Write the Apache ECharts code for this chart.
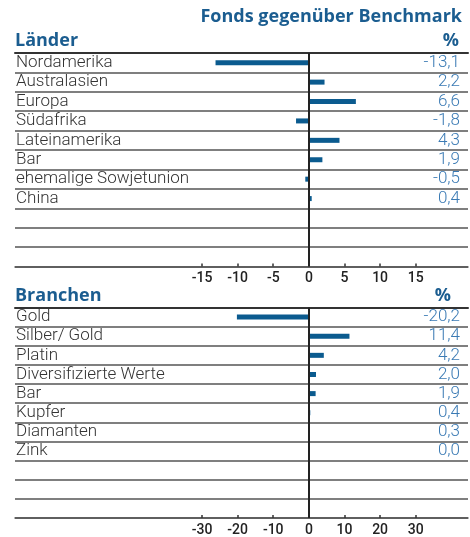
<!DOCTYPE html>
<html>
<head>
<meta charset="utf-8">
<script src="https://cdn.jsdelivr.net/npm/echarts@6/dist/echarts.min.js"></script>
<style>
  html, body { margin: 0; padding: 0; background: #fff; }
  #chart { width: 470px; height: 537px; }
</style>
</head>
<body>
<div id="chart"></div>
<script>
// Länder
const laenderCats = ['Nordamerika', 'Australasien', 'Europa', 'Südafrika', 'Lateinamerika', 'Bar', 'ehemalige Sowjetunion', 'China']
const laenderValues = [-13.1, 2.2, 6.6, -1.8, 4.3, 1.9, -0.5, 0.4]
const laenderTicks = [-15, -10, -5, 0, 5, 10, 15]

// Branchen
const branchenCats = ['Gold', 'Silber/ Gold', 'Platin', 'Diversifizierte Werte', 'Bar', 'Kupfer', 'Diamanten', 'Zink']
const branchenValues = [-20.2, 11.4, 4.2, 2.0, 1.9, 0.4, 0.3, 0.0]
const branchenTicks = [-30, -20, -10, 0, 10, 20, 30]

const emptyRows = 3

const FONT = 'Roboto, "Open Sans", sans-serif'
const HEAD_FONT = '"Open Sans", Roboto, sans-serif'
const BLUE_HEAD = '#1b5d90'
const BLUE_VAL = '#3a7ab4'
const BAR = '#0b5b8f'
const LINE = '#555'

const fmt = v => v.toFixed(1).replace('.', ',')
const pad = cats => cats.concat(Array(emptyRows).fill(''))

function panel(idx, cats, values, ticks, min, max) {
  const g = idx
  const yAxes = [
    {
      type: 'category', gridIndex: g, inverse: true, data: pad(cats),
      axisLine: { show: false }, axisTick: { show: false, interval: 0 },
      splitLine: { show: true, interval: 0, lineStyle: { color: LINE, width: 1.5 } },
      axisLabel: {
        inside: true, interval: 0, margin: 1, color: '#333', fontSize: 17,
        fontFamily: FONT, fontWeight: 300, padding: [4, 0, 0, 0]
      }
    },
    {
      type: 'category', gridIndex: g, inverse: true, position: 'right', data: pad(cats),
      axisLine: { show: false }, axisTick: { show: false }, splitLine: { show: false },
      axisLabel: {
        inside: true, interval: 0, margin: 8, color: BLUE_VAL, fontSize: 17,
        fontFamily: FONT, fontWeight: 300, padding: [4, 0, 0, 0],
        formatter: (v, i) => i < values.length ? fmt(values[i]) : ''
      }
    }
  ]
  const xAxes = [
    {
      type: 'value', gridIndex: g, min, max, position: 'bottom',
      splitLine: { show: false },
      axisLine: { show: true, onZero: false, lineStyle: { color: LINE, width: 1.5 } },
      axisTick: { show: true, inside: true, length: 3, customValues: ticks, lineStyle: { color: '#333', width: 1.5 } },
      axisLabel: {
        show: true, customValues: ticks, margin: 5, color: '#222',
        fontSize: 14, fontFamily: FONT, fontWeight: 500
      }
    },
    {
      type: 'value', gridIndex: g, min, max, position: 'top',
      splitLine: { show: false }, axisTick: { show: false }, axisLabel: { show: false },
      axisLine: { show: true, onZero: false, lineStyle: { color: '#333', width: 2 } }
    }
  ]
  const series = {
    type: 'bar', xAxisIndex: idx * 2, yAxisIndex: idx * 2,
    data: values, barWidth: 5,
    itemStyle: { color: BAR },
    silent: true,
    markLine: {
      silent: true, symbol: 'none', label: { show: false },
      lineStyle: { color: '#222', width: 2, type: 'solid' },
      data: [{ xAxis: 0 }]
    }
  }
  return { xAxes, yAxes, series }
}

const p1 = panel(0, laenderCats, laenderValues, laenderTicks, -41.25, 22.34)
const p2 = panel(1, branchenCats, branchenValues, branchenTicks, -82.5, 44.68)

const headStyle = { fontFamily: HEAD_FONT, fontWeight: 'bold', fontSize: 18, color: BLUE_HEAD }

const option = {
  animation: false,
  title: [
    { text: 'Fonds gegenüber Benchmark', right: 8, top: 8, padding: 0, textStyle: headStyle },
    { text: 'Länder', left: 15, top: 32, padding: 0, textStyle: headStyle },
    { text: '%', right: 11, top: 32, padding: 0, textStyle: headStyle },
    { text: 'Branchen', left: 15, top: 287, padding: 0, textStyle: headStyle },
    { text: '%', right: 19, top: 287, padding: 0, textStyle: headStyle }
  ],
  grid: [
    { left: 15, right: 2, top: 53, height: 213.5 },
    { left: 15, right: 2, top: 307.5, height: 214 }
  ],
  xAxis: [...p1.xAxes, ...p2.xAxes],
  yAxis: [...p1.yAxes, ...p2.yAxes],
  series: [p1.series, p2.series]
}

const chart = echarts.init(document.getElementById('chart'))
chart.setOption(option)
</script>
</body>
</html>
